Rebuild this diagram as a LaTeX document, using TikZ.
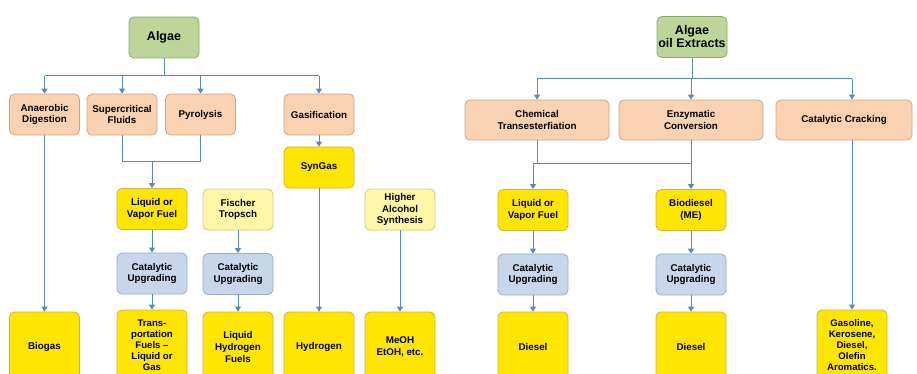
\documentclass[tikz,border=0pt]{standalone}
\usepackage{fontspec}
\setmainfont{Liberation Sans}
\usetikzlibrary{arrows.meta}

\definecolor{linkblue}{HTML}{5B87C5}
\definecolor{greenfill}{HTML}{BED59A}
\definecolor{greendraw}{HTML}{8FA86A}
\definecolor{peachfill}{HTML}{FAD2B2}
\definecolor{peachdraw}{HTML}{C8A68E}
\definecolor{yelfill}{HTML}{FFE600}
\definecolor{yeldraw}{HTML}{CDB43A}
\definecolor{paleyfill}{HTML}{FFF7A6}
\definecolor{paleydraw}{HTML}{CFC792}
\definecolor{bluefill}{HTML}{C8D6EA}
\definecolor{bluedraw}{HTML}{97ACCB}

\tikzset{
  box/.style={rounded corners=5pt, line width=0.8pt, inner sep=1pt, align=center,
    font=\bfseries\fontsize{9.8}{11.8}\selectfont, minimum width=70pt, minimum height=41pt},
  greenbox/.style={box, fill=greenfill, draw=greendraw, font=\bfseries\fontsize{12.5}{13}\selectfont},
  peachbox/.style={box, fill=peachfill, draw=peachdraw},
  yelbox/.style={box, fill=yelfill, draw=yeldraw},
  paleybox/.style={box, fill=paleyfill, draw=paleydraw},
  bluebox/.style={box, fill=bluefill, draw=bluedraw},
  endbox/.style={yelbox, minimum height=70pt},
  tallend/.style={endbox, font=\bfseries\fontsize{9.6}{11}\selectfont},
  link/.style={draw=linkblue, line width=1pt},
  arr/.style={link, -{Triangle[width=6pt,length=5pt]}},
}

\begin{document}
\begin{tikzpicture}[x=1pt,y=-1pt]
\useasboundingbox (0,0) rectangle (917,374);
\clip (0,0) rectangle (917,374);
\fill[white] (0,0) rectangle (917,374);

% ---- Algae route ----
\node[greenbox] (algae) at (164,37.5) {Algae};
\node[peachbox] (ana)   at (44.5,114.5) {Anaerobic\\Digestion};
\node[peachbox] (sup)   at (122,114.5) {Supercritical\\Fluids};
\node[peachbox] (pyr)   at (200.5,114.5) {Pyrolysis};
\node[peachbox] (gasif) at (319,114.5) {Gasification};
\node[yelbox]   (syn)   at (319,167.5) {SynGas};

\node[yelbox]   (lvf)   at (152,209) {Liquid or\\Vapor Fuel};
\node[paleybox] (ft)    at (238,209.5) {Fischer\\Tropsch};
\node[paleybox] (has)   at (400,209.5) {Higher\\Alcohol\\Synthesis};
\node[bluebox]  (cu1)   at (152,273.5) {Catalytic\\Upgrading};
\node[bluebox]  (cu2)   at (238,274) {Catalytic\\Upgrading};

\node[endbox]  (biogas) at (44.5,347) {Biogas};
\node[tallend, text depth=0pt] (trans) at (152,345) {Trans-\\portation\\Fuels --\\Liquid or\\Gas};
\node[endbox]  (lhf)    at (238,347) {Liquid\\Hydrogen\\Fuels};
\node[endbox]  (hyd)    at (319,347) {Hydrogen};
\node[endbox]  (meoh)   at (400,347) {MeOH\\EtOH, etc.};

\coordinate (lbus) at (164,76);
\coordinate (ljoin) at (152,162);
\draw[link] (algae.south) -- (lbus);
\draw[link] (ana.north |- lbus) -- (gasif.north |- lbus);
\foreach \n in {ana,sup,pyr,gasif}
  \draw[arr] (\n.north |- lbus) -- (\n.north);
\draw[arr] (gasif) -- (syn);
\draw[link] (sup.south) -- (sup.south |- ljoin) -- (pyr.south |- ljoin) -- (pyr.south);
\draw[arr] (ljoin) -- (lvf.north);
\draw[arr] (lvf) -- (cu1);
\draw[arr] (cu1) -- (trans.north);
\draw[arr] (ft) -- (cu2);
\draw[arr] (cu2) -- (lhf);
\draw[arr] (ana) -- (biogas);
\draw[arr] (syn) -- (hyd);
\draw[arr] (has) -- (meoh);

% ---- Algae oil extracts route ----
\node[greenbox] (oil) at (692,37) {Algae\\oil Extracts};
\node[peachbox, minimum width=144pt, minimum height=40pt] (chem)   at (537,120) {Chemical\\Transesterfiation};
\node[peachbox, minimum width=144pt, minimum height=40pt] (enz)    at (691,120) {Enzymatic\\Conversion};
\node[peachbox, minimum width=136pt, minimum height=40pt] (ccrack) at (844,120) {Catalytic Cracking};

\node[yelbox]  (lvf2) at (533,210) {Liquid or\\Vapor Fuel};
\node[yelbox]  (bio)  at (691,210) {Biodiesel\\(ME)};
\node[bluebox] (cu3)  at (533,274.5) {Catalytic\\Upgrading};
\node[bluebox] (cu4)  at (691,274.5) {Catalytic\\Upgrading};

\node[endbox]  (dies1) at (533,347) {Diesel};
\node[endbox]  (dies2) at (691,347) {Diesel};
\node[tallend, text depth=0pt] (gaso) at (852,345) {Gasoline,\\Kerosene,\\Diesel,\\Olefin\\Aromatics.};

\coordinate (rbus) at (692,79);
\coordinate (rjoin) at (691,164);
\draw[link] (oil.south) -- (rbus);
\draw[link] (chem.north |- rbus) -- (gaso.north |- rbus);
\draw[arr] (chem.north |- rbus) -- (chem.north);
\draw[arr] (enz.north |- rbus) -- (enz.north);
\draw[arr] (gaso.north |- rbus) -- (gaso.north |- ccrack.north);
\draw[arr] (gaso.north |- ccrack.south) -- (gaso.north);
\draw[link] (chem.south) -- (chem.south |- rjoin);
\draw[link] (enz.south) -- (rjoin) -- (lvf2.north |- rjoin);
\draw[arr] (lvf2.north |- rjoin) -- (lvf2.north);
\draw[arr] (rjoin) -- (bio.north);
\draw[arr] (lvf2) -- (cu3);
\draw[arr] (cu3) -- (dies1);
\draw[arr] (bio) -- (cu4);
\draw[arr] (cu4) -- (dies2);
\end{tikzpicture}
\end{document}
